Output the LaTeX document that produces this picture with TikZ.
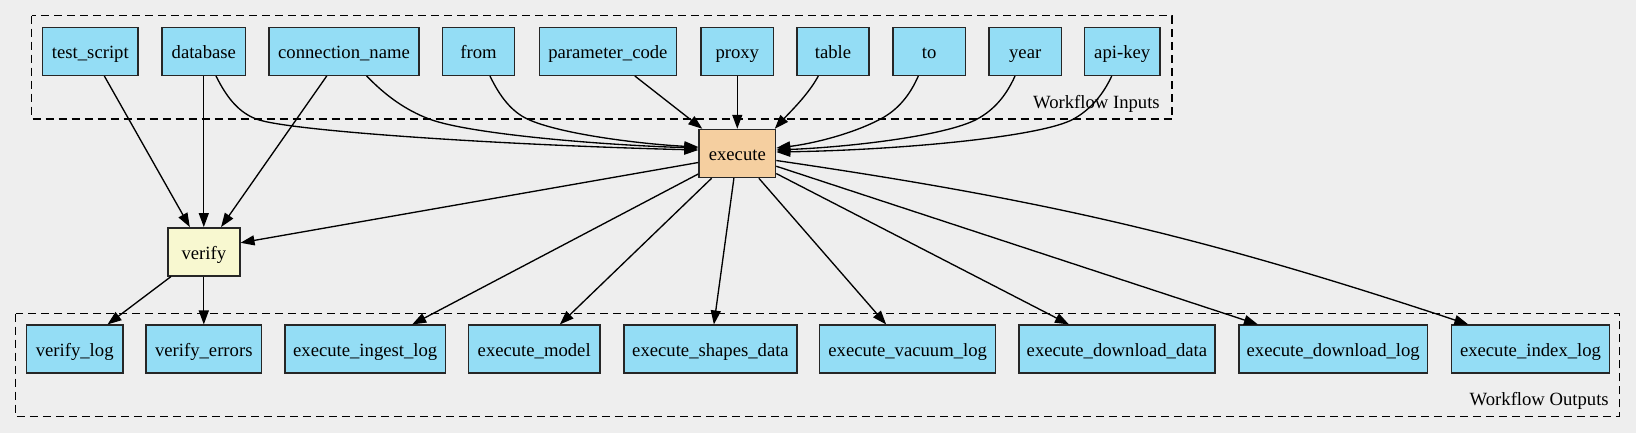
\documentclass[tikz,border=0pt]{standalone}
\usepackage{fontspec}
\setmainfont{Liberation Serif}
\newfontfamily\gvfont{Liberation Serif}
\usetikzlibrary{arrows.meta,calc}
\definecolor{bg}{HTML}{EEEEEE}
\definecolor{inbox}{HTML}{94DDF5}
\definecolor{exbox}{HTML}{F5CFA0}
\definecolor{vebox}{HTML}{F8F8D0}
\begin{document}
\begin{tikzpicture}[x=0.75pt,y=-0.75pt,
  box/.style={draw=black!85, line width=1.1pt, minimum height=36pt, inner sep=0pt, text height=13pt, text depth=2pt, font=\gvfont\fontsize{14}{16}\selectfont},
  io/.style={box, fill=inbox},
  edge/.style={draw, line width=1pt, -{Triangle[length=10.5pt,width=7.5pt]}},
  cluster/.style={draw, line width=1pt, dash pattern=on 6pt off 3.75pt},
  lbl/.style={font=\gvfont\fontsize{14}{16}\selectfont, inner sep=0pt, anchor=east}]
\fill[bg] (0,0) rectangle (1636,433);
\useasboundingbox (0,0) rectangle (1636,433);

% clusters
\draw[cluster] (31.8,15.7) rectangle (1172,119);
\draw[cluster] (15.8,313.7) rectangle (1619.5,416.7);
\node[lbl] (inlbl) at (1160,103.5) {Workflow Inputs};
\node[lbl] (outlbl) at (1609,401) {Workflow Outputs};

% inputs
\node[io, minimum width=71.8pt] (test_script) at (90.35,51.3) {test\_script};
\node[io, minimum width=62.85pt] (database) at (203.8,51.3) {database};
\node[io, minimum width=112.5pt] (connection_name) at (344,51.3) {connection\_name};
\node[io, minimum width=54.2pt] (from) at (478.5,51.3) {from};
\node[io, minimum width=103pt] (parameter_code) at (607.9,51.3) {parameter\_code};
\node[io, minimum width=54.2pt] (proxy) at (737.3,51.3) {proxy};
\node[io, minimum width=54.2pt] (table) at (833,51.3) {table};
\node[io, minimum width=54.2pt] (to) at (929.1,51.3) {to};
\node[io, minimum width=54.2pt] (year) at (1025.2,51.3) {year};
\node[io, minimum width=56.9pt] (apikey) at (1122.2,51.3) {api-key};

% steps
\node[box, fill=exbox, minimum width=57.4pt] (execute) at (737.3,153.5) {execute};
\node[box, fill=vebox, minimum width=54pt] (verify) at (203.8,251.8) {verify};

% outputs
\node[io, minimum width=72.4pt] (verify_log) at (74.7,349.2) {verify\_log};
\node[io, minimum width=86.8pt] (verify_errors) at (203.8,349.2) {verify\_errors};
\node[io, minimum width=120.3pt] (ingest) at (365.2,349.2) {execute\_ingest\_log};
\node[io, minimum width=98.7pt] (model) at (534.2,349.2) {execute\_model};
\node[io, minimum width=129.75pt] (shapes) at (710.5,349.2) {execute\_shapes\_data};
\node[io, minimum width=132pt] (vacuum) at (907.7,349.2) {execute\_vacuum\_log};
\node[io, minimum width=146.85pt] (ddata) at (1116.9,349.2) {execute\_download\_data};
\node[io, minimum width=141.6pt] (dlog) at (1333.2,349.2) {execute\_download\_log};
\node[io, minimum width=118.4pt] (ilog) at (1530.5,349.2) {execute\_index\_log};

% edges into verify
\draw[edge] (test_script) -- (verify);
\draw[edge] (database) -- (verify);
\draw[edge] (connection_name) -- (verify);
\draw[edge] ($(execute.west)+(0,9)$) -- ($(verify.east)+(0,-9)$);

% edges into execute
\draw[edge] ($(database.south)+(12.2,0)$) .. controls (228,100) and (240,113) .. (257,119.3)
  .. controls (290,131) and (500,145) .. ($(execute.west)+(0,-3.5)$);
\draw[edge] ($(connection_name.south)+(22.7,0)$) .. controls (385,95) and (405,110) .. (430,119.3)
  .. controls (470,134) and (600,145) .. ($(execute.west)+(0,-5.5)$);
\draw[edge] ($(from.south)+(11.5,0)$) .. controls (500,97) and (512,112) .. (528,119.3)
  .. controls (560,134) and (640,144) .. ($(execute.west)+(0,-6.5)$);
\draw[edge] ($(parameter_code.south)+(27,0)$) -- ($(execute.north west)+(4,0)$);
\draw[edge] (proxy) -- (execute);
\draw[edge] ($(table.south)+(-14.7,0)$) .. controls (808,95) and (790,112) .. ($(execute.north east)+(-1.5,0)$);
\draw[edge] ($(to.south)+(-10.8,0)$) .. controls (910,95) and (898,110) .. (880,119.3)
  .. controls (850,135) and (810,144) .. ($(execute.east)+(0,-5.5)$);
\draw[edge] ($(year.south)+(-10.2,0)$) .. controls (1006,96) and (994,110) .. (976.7,119.3)
  .. controls (945,136) and (850,147) .. ($(execute.east)+(0,-3.5)$);
\draw[edge] ($(apikey.south)+(-10.5,0)$) .. controls (1103,95) and (1090,110) .. (1073,119.3)
  .. controls (1040,137) and (900,150) .. ($(execute.east)+(0,-1.5)$);

% edges out of verify
\draw[edge] (verify) -- (verify_log);
\draw[edge] (verify) -- (verify_errors);

% edges out of execute
\draw[edge] (execute) -- (ingest);
\draw[edge] (execute) -- (model);
\draw[edge] (execute) -- (shapes);
\draw[edge] (execute) -- (vacuum);
\draw[edge] (execute) -- (ddata);
\draw[edge] (execute) -- (dlog);
\draw[edge] ($(execute.east)+(0,7)$) to[bend left=5] ($(ilog.north west)+(17.5,0)$);
\end{tikzpicture}
\end{document}
